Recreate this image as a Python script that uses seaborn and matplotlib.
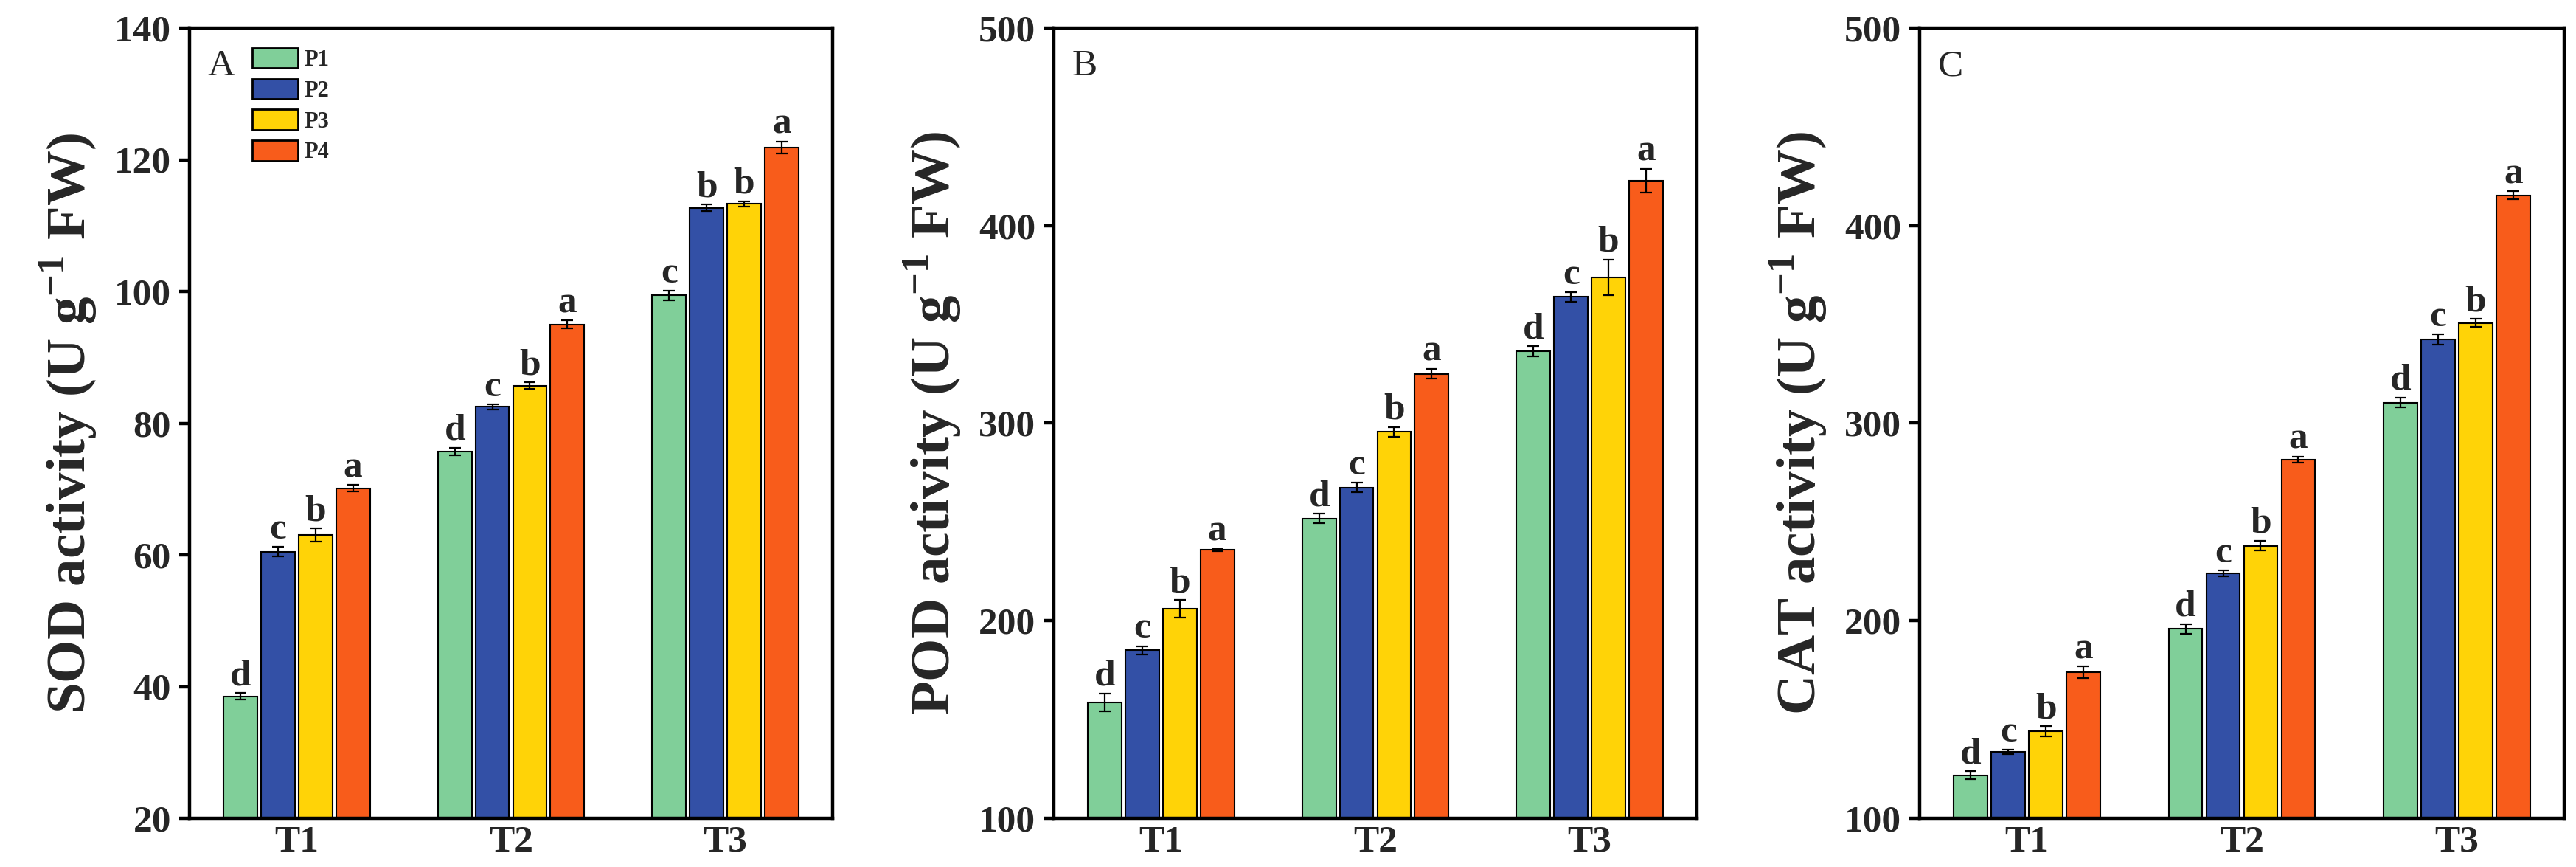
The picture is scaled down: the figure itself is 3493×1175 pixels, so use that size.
import matplotlib
matplotlib.use('Agg')
import matplotlib.pyplot as plt
import pandas as pd
import seaborn as sns

sns.set_theme(style='ticks')
plt.rcParams['font.family'] = ['Liberation Serif', 'DejaVu Serif']
plt.rcParams['mathtext.fontset'] = 'custom'
plt.rcParams['mathtext.rm'] = 'Liberation Serif'
plt.rcParams['mathtext.bf'] = 'Liberation Serif:bold'

treatments = ['T1', 'T2', 'T3']
levels = ['P1', 'P2', 'P3', 'P4']
colors = ['#80CF99', '#3350A6', '#FFD307', '#F85C1B']

# rows = P1..P4, columns = T1..T3
sod_means = [[38.5, 75.7, 99.4], [60.5, 82.5, 112.7], [63.0, 85.7, 113.3], [70.1, 95.0, 121.9]]
sod_errs = [[0.5, 0.6, 0.7], [0.7, 0.4, 0.5], [1.0, 0.5, 0.4], [0.5, 0.6, 0.9]]
sod_letters = [['d', 'd', 'c'], ['c', 'c', 'b'], ['b', 'b', 'b'], ['a', 'a', 'a']]

pod_means = [[158.7, 251.7, 336.4], [185.0, 267.5, 364.0], [206.0, 295.6, 373.8], [235.8, 325.0, 422.7]]
pod_errs = [[4.6, 2.4, 2.5], [2.2, 2.4, 2.4], [4.4, 2.5, 9.1], [0.5, 2.5, 6.0]]
pod_letters = [['d', 'd', 'd'], ['c', 'c', 'c'], ['b', 'b', 'b'], ['a', 'a', 'a']]

cat_means = [[121.8, 195.8, 310.4], [133.6, 224.0, 342.4], [144.0, 238.0, 350.7], [173.8, 281.5, 415.3]]
cat_errs = [[2.0, 2.5, 2.5], [1.0, 1.5, 2.5], [2.5, 2.5, 2.0], [3.0, 1.5, 2.0]]
cat_letters = [['d', 'd', 'd'], ['c', 'c', 'c'], ['b', 'b', 'b'], ['a', 'a', 'a']]

panels = [
    ('A', 'SOD', sod_means, sod_errs, sod_letters, (20, 140), range(20, 141, 20)),
    ('B', 'POD', pod_means, pod_errs, pod_letters, (100, 500), range(100, 501, 100)),
    ('C', 'CAT', cat_means, cat_errs, cat_letters, (100, 500), range(100, 501, 100)),
]

W, H = 3493, 1175
fig = plt.figure(figsize=(W / 100, H / 100), dpi=100)
boxes = [(257, 1129), (1429, 2301), (2603, 3477)]
top, bottom = 38, 1109

FS = 37
for k, (tag, name, means, errs, letters, ylim, yticks) in enumerate(panels):
    x0, x1 = boxes[k]
    ax = fig.add_axes([x0 / W, (H - bottom) / H, (x1 - x0) / W, (bottom - top) / H])

    df = pd.DataFrame([{'T': t, 'P': p, 'v': means[i][j]}
                       for i, p in enumerate(levels) for j, t in enumerate(treatments)])
    sns.barplot(data=df, x='T', y='v', hue='P', order=treatments, hue_order=levels,
                palette=colors, saturation=1, width=0.7, gap=0.1, edgecolor='black',
                linewidth=1.5, errorbar=None, legend=(k == 0), ax=ax)

    bars = list(ax.containers)
    for i, cont in enumerate(bars):
        xs = [b.get_x() + b.get_width() / 2 for b in cont]
        ax.errorbar(xs, means[i], yerr=errs[i], fmt='none', ecolor='black',
                    elinewidth=1.6, capsize=5.5, capthick=1.6, zorder=3)
        for x, m, e, s in zip(xs, means[i], errs[i], letters[i]):
            ax.annotate(s, (x, m + e), xytext=(0, 8), textcoords='offset points',
                        ha='center', va='baseline', fontsize=FS, fontweight='bold')

    ax.set_xlim(-0.5, 2.5)
    ax.set_ylim(*ylim)
    ax.set_yticks(list(yticks))
    ax.set_xlabel('')
    ax.set_ylabel(name + r' activity (U g$^{\mathbf{-1}}$ FW)', fontsize=54,
                  fontweight='bold', labelpad=14)
    ax.tick_params(axis='y', direction='out', length=10, width=3.2, pad=8,
                   labelsize=FS, color='black')
    ax.tick_params(axis='x', length=0, pad=7, labelsize=FS)
    for lbl in ax.get_xticklabels() + ax.get_yticklabels():
        lbl.set_fontweight('bold')
    for s in ax.spines.values():
        s.set_visible(True)
        s.set_linewidth(3.2)
        s.set_color('black')

    ax.text(0.028, 0.94, tag, transform=ax.transAxes, fontsize=FS,
            ha='left', va='baseline', fontweight='normal')

    if k == 0:
        leg = ax.get_legend()
        handles = leg.legend_handles
        labels = [t.get_text() for t in leg.get_texts()]
        for h, c in zip(handles, colors):
            h.set_facecolor(c)
            h.set_edgecolor('black')
            h.set_linewidth(2)
        ax.legend(handles, labels, loc='upper left', bbox_to_anchor=(0.098, 0.975),
                  frameon=False, prop={'weight': 'bold', 'size': 22},
                  handlelength=2.0, handleheight=1.0, handletextpad=0.3,
                  labelspacing=0.35, borderpad=0, borderaxespad=0)

fig.savefig('out.png', dpi=100)
